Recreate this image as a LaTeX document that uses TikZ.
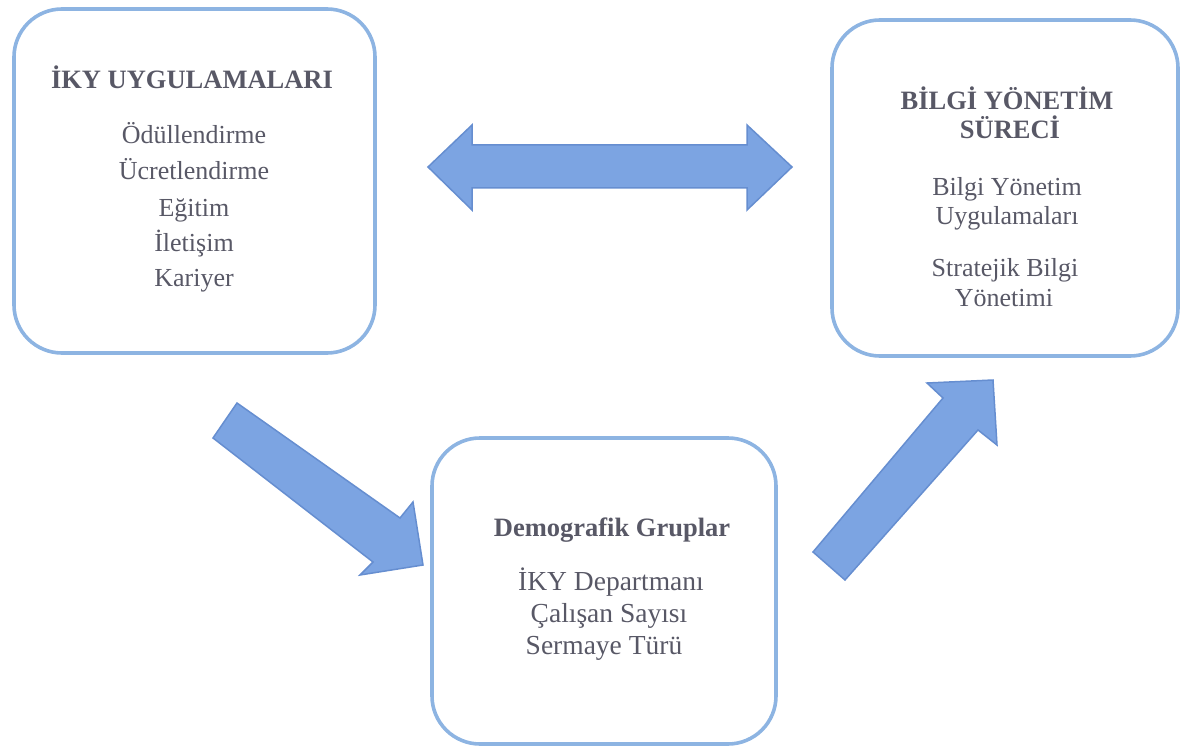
\documentclass[tikz,border=0pt]{standalone}
\usepackage{fontspec}
\setmainfont{Liberation Serif}
\definecolor{boxblue}{RGB}{141,180,226}
\definecolor{arrfill}{RGB}{124,164,226}
\definecolor{arrdraw}{RGB}{102,142,208}
\definecolor{txt}{RGB}{88,88,102}
\begin{document}
\begin{tikzpicture}[x=1pt,y=-1pt,
  box/.style={draw=boxblue,line width=3.6pt,rounded corners=48pt,inner sep=0pt},
  ttl/.style={font=\fontsize{26.5}{28}\selectfont\bfseries,text=txt,anchor=base,inner sep=0pt},
  bod/.style={font=\fontsize{26}{30}\selectfont,text=txt,anchor=base,inner sep=0pt},
  bodc/.style={font=\fontsize{27.5}{30}\selectfont,text=txt,anchor=base,inner sep=0pt},
  blockarrow/.style={fill=arrfill,draw=arrdraw,line width=1.5pt,line join=miter}]
\useasboundingbox (0,0) rectangle (1184,749);
% boxes
\node[box,minimum width=361pt,minimum height=344pt] (iky) at (194.5,181) {};
\node[box,minimum width=346pt,minimum height=336pt] (bilgi) at (1005,188) {};
\node[box,minimum width=344pt,minimum height=306pt] (demo) at (604,591) {};
% left texts
\node[ttl] (t1) at (192,89) {İKY UYGULAMALARI};
\node[bod] (l1) at (194,144) {Ödüllendirme};
\node[bod] (l2) at (194,180) {Ücretlendirme};
\node[bod] (l3) at (194,216) {Eğitim};
\node[bod] (l4) at (194,251) {İletişim};
\node[bod] (l5) at (194,286) {Kariyer};
% right texts
\node[ttl] (t2a) at (1007,110) {BİLGİ YÖNETİM};
\node[ttl] (t2b) at (1010,139) {SÜRECİ};
\node[bod] (r1) at (1007,196) {Bilgi Yönetim};
\node[bod] (r2) at (1007,224) {Uygulamaları};
\node[bod] (r3) at (1005,276) {Stratejik Bilgi};
\node[bod] (r4) at (1004,306) {Yönetimi};
% bottom texts
\node[ttl] (t3) at (612,536) {Demografik Gruplar};
\node[bodc] (b1) at (611,590) {İKY Departmanı};
\node[bodc] (b2) at (609,622) {Çalışan Sayısı};
\node[bodc] (b3) at (604,654) {Sermaye Türü};
% block arrows
\draw[blockarrow] (428,167) -- (472,125) -- (472,145) -- (747,145) -- (747,125)
  -- (792,167) -- (747,210) -- (747,188) -- (472,188) -- (472,210) -- cycle;
\draw[blockarrow] (237,403) -- (400,518) -- (413,502) -- (423,565) -- (360,575)
  -- (373,562) -- (213,438) -- cycle;
\draw[blockarrow] (813,552) -- (943,398) -- (927,383) -- (993,380) -- (997,445)
  -- (978,430) -- (845,580) -- cycle;
\end{tikzpicture}
\end{document}
